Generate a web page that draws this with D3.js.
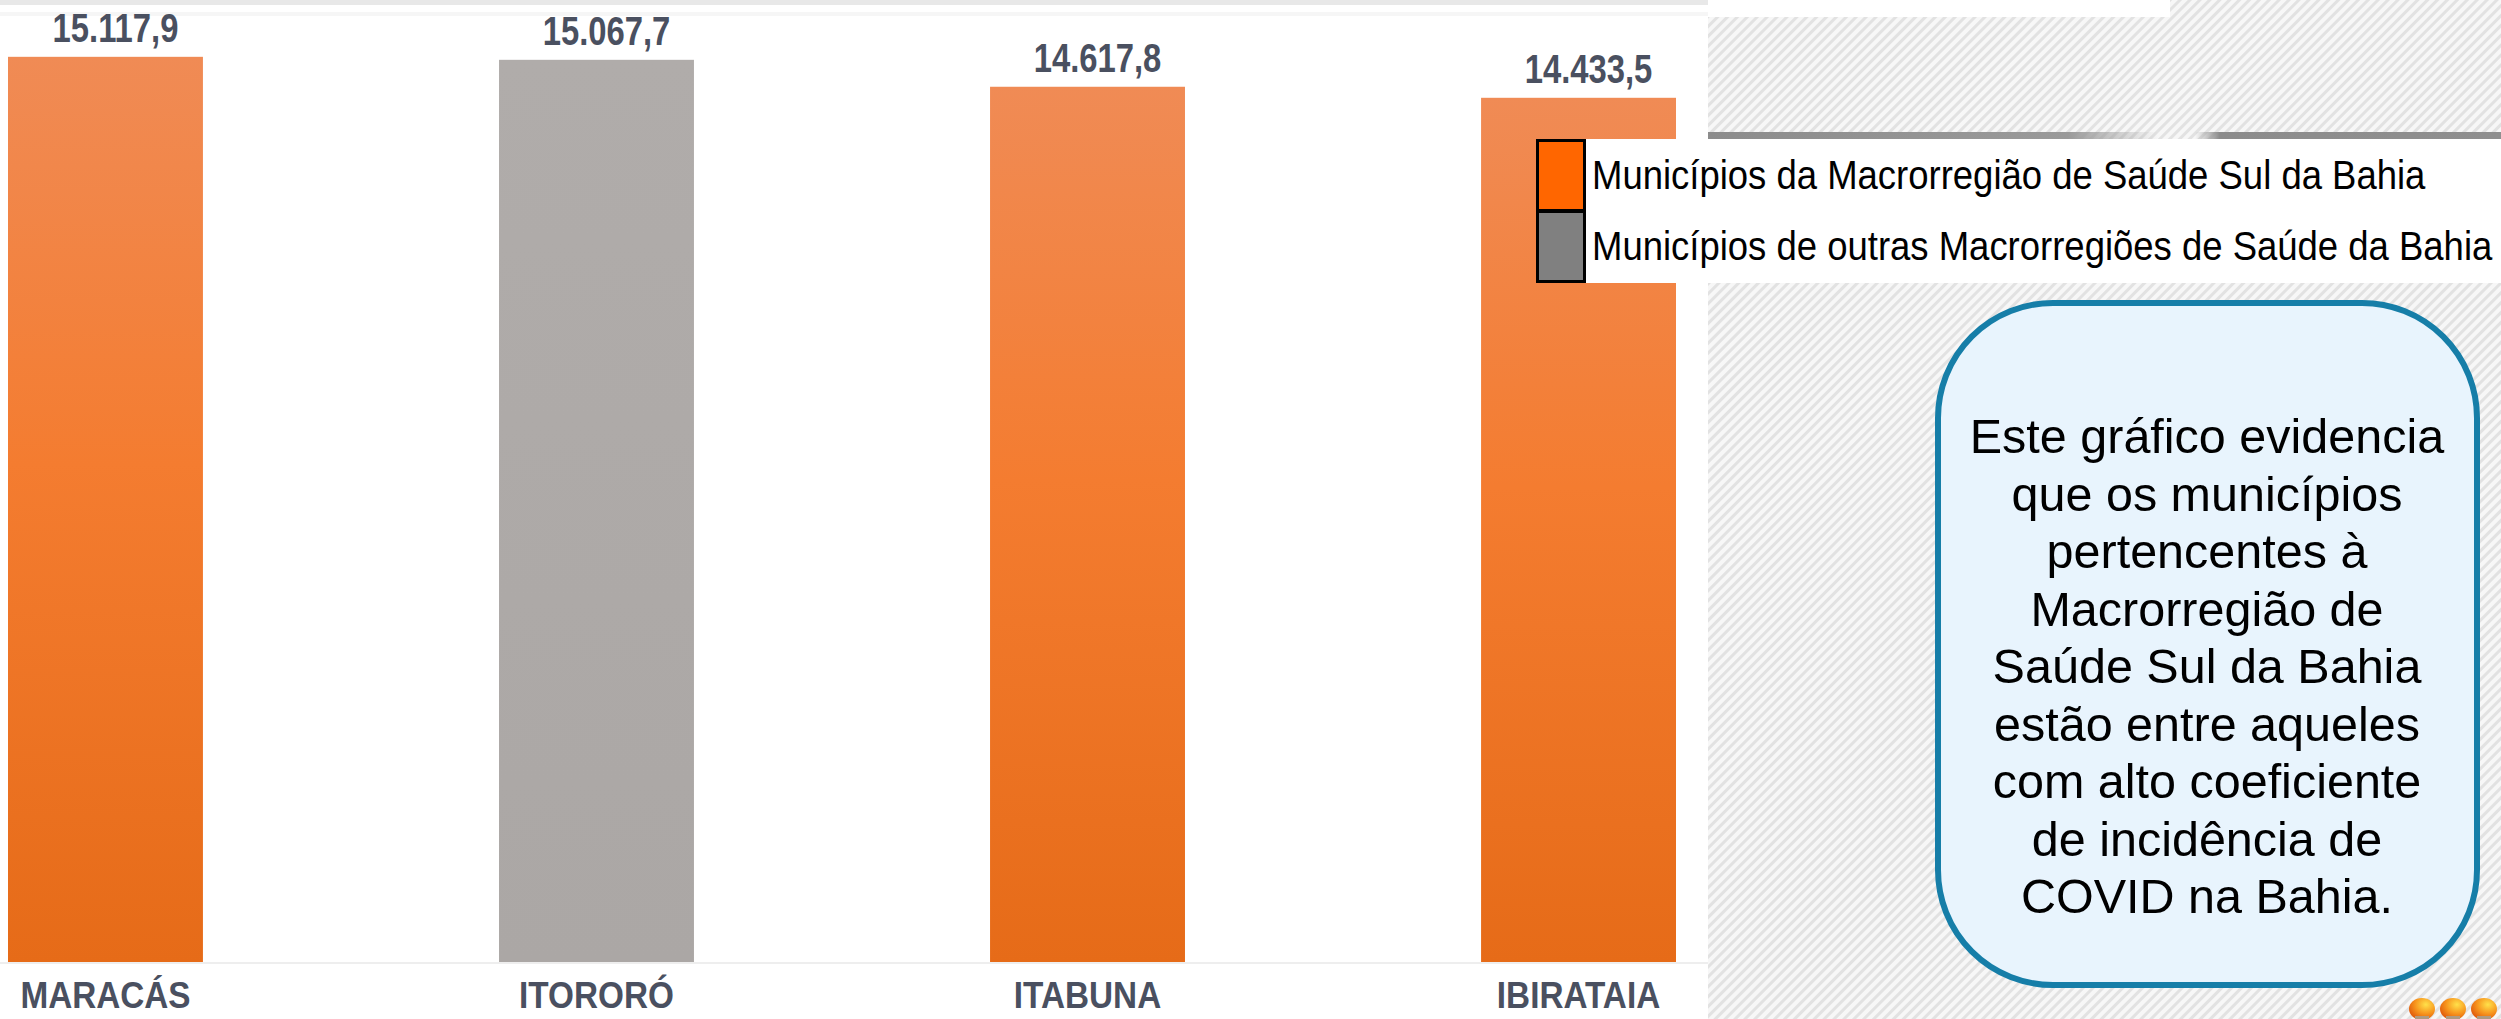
<!DOCTYPE html>
<html>
<head>
<meta charset="utf-8">
<script src="https://cdn.jsdelivr.net/npm/d3@7"></script>
<style>
  body { margin: 0; background: #fff; }
  svg { display: block; }
</style>
</head>
<body>
<script>
// data
var categories = ["MARACÁS", "ITORORÓ", "ITABUNA", "IBIRATAIA"];
var values = [15117.9, 15067.7, 14617.8, 14433.5];
var groups = ["sul", "outra", "sul", "sul"];
var legendKeys = ["sul", "outra"];
var legendLabels = ["Municípios da Macrorregião de Saúde Sul da Bahia",
                    "Municípios de outras Macrorregiões de Saúde da Bahia"];
var noteLines = ["Este gráfico evidencia", "que os municípios", "pertencentes à",
                 "Macrorregião de", "Saúde Sul da Bahia", "estão entre aqueles",
                 "com alto coeficiente", "de incidência de", "COVID na Bahia."];

var width = 2501, height = 1019;
var chartRight = 1708;
var baseY = 962;

var fmt = d3.formatLocale({decimal: ",", thousands: ".", grouping: [3], currency: ["R$", ""]}).format(",.1f");

var xScale = d3.scaleBand().domain(categories).range([8, 1676]).paddingInner(0.603).paddingOuter(0);
var yScale = d3.scaleLinear().domain([0, 16000]).range([baseY, 4]);
var legendColor = d3.scaleOrdinal().domain(legendKeys).range(["#ff6600", "#808080"]);

var svg = d3.select("body").append("svg")
    .attr("width", width)
    .attr("height", height);

var defs = svg.append("defs");

// hatched background
var hatch = defs.append("pattern")
    .attr("id", "hatch")
    .attr("width", 7).attr("height", 7)
    .attr("patternUnits", "userSpaceOnUse")
    .attr("patternTransform", "rotate(45)");
hatch.append("rect").attr("width", 7).attr("height", 7).attr("fill", "#f7f7f7");
hatch.append("rect").attr("width", 3).attr("height", 7).attr("fill", "#e2e2e2");

var gOrange = defs.append("linearGradient").attr("id", "gOrange")
    .attr("x1", 0).attr("y1", 0).attr("x2", 0).attr("y2", 1);
gOrange.append("stop").attr("offset", "0%").attr("stop-color", "#f08b55");
gOrange.append("stop").attr("offset", "45%").attr("stop-color", "#f47c30");
gOrange.append("stop").attr("offset", "100%").attr("stop-color", "#e66b18");

var gGray = defs.append("linearGradient").attr("id", "gGray")
    .attr("x1", 0).attr("y1", 0).attr("x2", 0).attr("y2", 1);
gGray.append("stop").attr("offset", "0%").attr("stop-color", "#b0acaa");
gGray.append("stop").attr("offset", "100%").attr("stop-color", "#aba7a5");

var shadowA = defs.append("linearGradient").attr("id", "shadowA");
shadowA.append("stop").attr("offset", "0%").attr("stop-color", "#8c8c8c");
shadowA.append("stop").attr("offset", "80%").attr("stop-color", "#9a9a9a");
shadowA.append("stop").attr("offset", "100%").attr("stop-color", "#9a9a9a").attr("stop-opacity", 0);
var shadowB = defs.append("linearGradient").attr("id", "shadowB");
shadowB.append("stop").attr("offset", "0%").attr("stop-color", "#9a9a9a").attr("stop-opacity", 0);
shadowB.append("stop").attr("offset", "8%").attr("stop-color", "#8c8c8c");
shadowB.append("stop").attr("offset", "100%").attr("stop-color", "#8f8f8f");

var flame = defs.append("radialGradient").attr("id", "flame")
    .attr("cx", "65%").attr("cy", "30%").attr("r", "70%");
flame.append("stop").attr("offset", "0%").attr("stop-color", "#ffe14a");
flame.append("stop").attr("offset", "60%").attr("stop-color", "#f7941d");
flame.append("stop").attr("offset", "100%").attr("stop-color", "#e2600e");

// backgrounds
svg.append("rect").attr("x", chartRight).attr("y", 0)
    .attr("width", width - chartRight).attr("height", height).attr("fill", "url(#hatch)");
svg.append("rect").attr("x", 0).attr("y", 0)
    .attr("width", chartRight).attr("height", height).attr("fill", "#ffffff");
svg.append("rect").attr("x", chartRight).attr("y", 0)
    .attr("width", 462).attr("height", 17).attr("fill", "#ffffff");
svg.append("rect").attr("x", 0).attr("y", 0)
    .attr("width", chartRight).attr("height", 5).attr("fill", "#e8e8e8");
svg.append("rect").attr("x", 0).attr("y", 12)
    .attr("width", chartRight).attr("height", 4).attr("fill", "#f6f6f6");
svg.append("rect").attr("x", chartRight).attr("y", 132)
    .attr("width", 450).attr("height", 8).attr("fill", "url(#shadowA)");
svg.append("rect").attr("x", 2195).attr("y", 132)
    .attr("width", width - 2195).attr("height", 8).attr("fill", "url(#shadowB)");

// baseline shadow
svg.append("line")
    .attr("x1", 0).attr("x2", chartRight)
    .attr("y1", baseY + 1).attr("y2", baseY + 1)
    .attr("stroke", "#eeeeee").attr("stroke-width", 2);

var data = categories.map(function (c, i) { return {cat: c, value: values[i], group: groups[i]}; });

// bars
svg.selectAll(".bar").data(data)
    .enter()
    .append("rect")
    .attr("class", "bar")
    .attr("x", function (d) { return xScale(d.cat); })
    .attr("y", function (d) { return yScale(d.value); })
    .attr("width", xScale.bandwidth())
    .attr("height", function (d) { return baseY - yScale(d.value); })
    .attr("fill", function (d) { return d.group == "sul" ? "url(#gOrange)" : "url(#gGray)"; });

// value labels (condensed bold look)
svg.selectAll(".val").data(data)
    .enter()
    .append("text")
    .attr("class", "val")
    .attr("transform", function (d) {
        return "translate(" + (xScale(d.cat) + xScale.bandwidth() / 2 + 10) + "," + (yScale(d.value) - 15) + ") scale(0.8,1)";
    })
    .attr("text-anchor", "middle")
    .attr("font-family", "'Liberation Sans', Arial, sans-serif")
    .attr("font-weight", "bold")
    .attr("font-size", 41)
    .attr("fill", "#4a5060")
    .text(function (d) { return fmt(d.value); });

// category labels
svg.selectAll(".cat").data(data)
    .enter()
    .append("text")
    .attr("class", "cat")
    .attr("transform", function (d) {
        return "translate(" + (xScale(d.cat) + xScale.bandwidth() / 2) + ",1008) scale(0.9,1)";
    })
    .attr("text-anchor", "middle")
    .attr("font-family", "'Liberation Sans', Arial, sans-serif")
    .attr("font-weight", "bold")
    .attr("font-size", 37)
    .attr("fill", "#4a5060")
    .text(function (d) { return d.cat; });

// legend
var legend = svg.append("g").attr("transform", "translate(1536,139)");
legend.append("rect").attr("x", 50).attr("y", 0)
    .attr("width", width - 1586).attr("height", 144).attr("fill", "#ffffff");
var rows = legend.selectAll(".lg").data(legendKeys)
    .enter()
    .append("g")
    .attr("class", "lg")
    .attr("transform", function (d, i) { return "translate(0," + (i * 71) + ")"; });
rows.append("rect")
    .attr("x", 1.5).attr("y", 1.5)
    .attr("width", 47).attr("height", 70)
    .attr("fill", function (d) { return legendColor(d); })
    .attr("stroke", "#000").attr("stroke-width", 3);
rows.append("text")
    .attr("transform", "translate(56,50) scale(0.89,1)")
    .attr("font-family", "'Liberation Sans', Arial, sans-serif")
    .attr("font-size", 41)
    .attr("fill", "#000")
    .text(function (d, i) { return legendLabels[i]; });

// note box
var note = svg.append("g");
note.append("rect")
    .attr("x", 1938).attr("y", 303)
    .attr("width", 539).attr("height", 682)
    .attr("rx", 115).attr("ry", 115)
    .attr("fill", "#e8f4fd")
    .attr("stroke", "#167ea8").attr("stroke-width", 6);
note.selectAll("text").data(noteLines)
    .enter()
    .append("text")
    .attr("x", 2207)
    .attr("y", function (d, i) { return 453 + i * 57.5; })
    .attr("text-anchor", "middle")
    .attr("font-family", "'Liberation Sans', Arial, sans-serif")
    .attr("font-size", 48.5)
    .attr("fill", "#000")
    .text(function (d) { return d; });

// little flames at the corner
var flames = svg.append("g");
[2422, 2453, 2484].forEach(function (cx) {
    flames.append("ellipse").attr("cx", cx).attr("cy", 1009).attr("rx", 13).attr("ry", 11).attr("fill", "url(#flame)");
    flames.append("rect").attr("x", cx - 7).attr("y", 1016).attr("width", 14).attr("height", 3).attr("fill", "#b09a80");
});
</script>
</body>
</html>
